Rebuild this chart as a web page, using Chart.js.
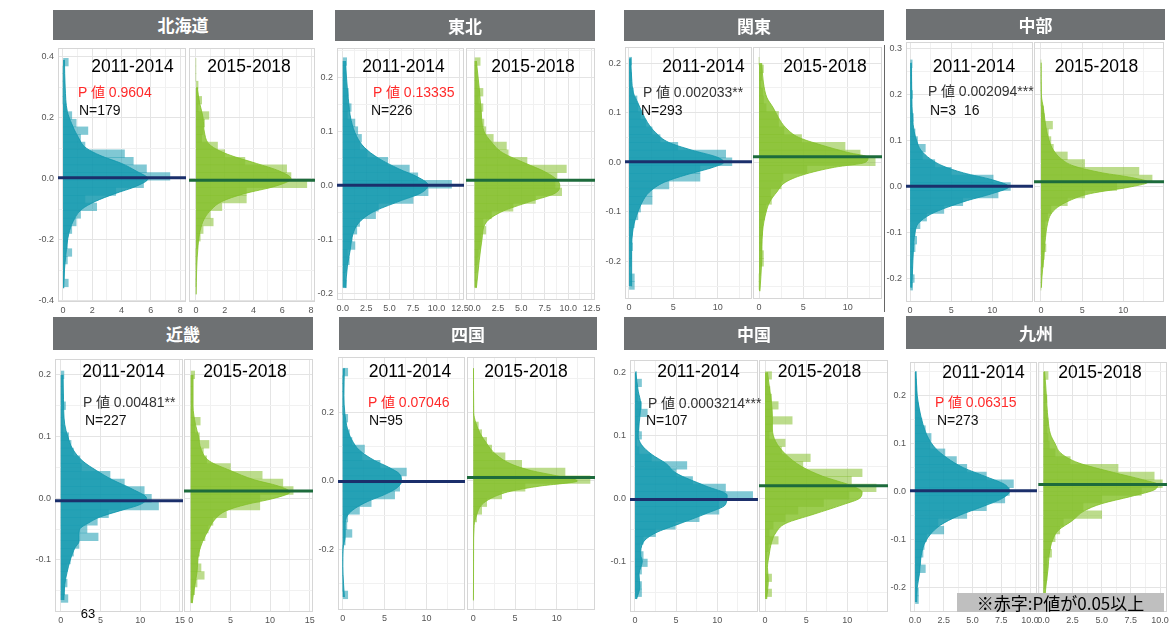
<!DOCTYPE html>
<html><head><meta charset="utf-8">
<script src="https://cdn.jsdelivr.net/npm/chart.js@4"></script>
<style>
body{margin:0;background:#fff;width:1170px;height:625px;overflow:hidden;position:relative;font-family:"Liberation Sans","Noto Sans CJK JP",Arial,sans-serif;}
.hdr{position:absolute;background:#6e7173;color:#fff;font-weight:bold;font-size:17px;text-align:center;font-family:"Noto Sans CJK JP",sans-serif;z-index:3;}
.cv{position:absolute;z-index:1;}
.lbl{position:absolute;white-space:pre;line-height:1;z-index:5;transform:translateY(-50%);}
.period{font-size:17.5px;color:#000;transform:translate(-50%,-50%);}
.pv{font-size:14px;color:#333;}
.pv.red{color:#ff2a2a;}
.nv{font-size:14px;color:#111;}
.note{position:absolute;background:#bfbfbf;color:#000;font-size:17px;text-align:center;z-index:6;font-family:"Noto Sans CJK JP",sans-serif;}
</style></head><body>
<script>
// ---------------- DATA ----------------
const regions = ['北海道','東北','関東','中部','近畿','四国','中国','九州'];
const periods = ['2011-2014','2015-2018'];
const pValues = ['0.9604','0.13335','0.002033**','0.002094***','0.00481**','0.07046','0.0003214***','0.06315'];
const pAbove005 = [true,true,false,false,false,true,false,true];
const nLabels = ['179','226','293','3  16','227','95','107','273'];
const meanEarly = [0.003,0.000,0.001,0.001,-0.004,-0.002,-0.002,0.002];
const meanLate = [-0.005,0.009,0.011,0.011,0.012,0.010,0.020,0.015];
// histogram bins (30 per region), top edge and width
const binTop = [0.395,0.236,0.2118,0.276,0.2063,0.33,0.201,0.25];
const binWidth = [0.025,0.0142,0.0156,0.0167,0.0125,0.0225,0.0119,0.0161];
// histogram heights, top bin first
const countsEarly = [
 [0.36,0,0,0,0,0,0.2,0.6,0.9,1.7,1.2,1.5,4.2,4.8,5.7,7.3,5.5,3.6,1.5,2.3,1.2,0.9,0.6,0.3,0.3,0.6,0.3,0.1,0.1,0.36],
 [0.42,0.3,0.3,0.3,0.6,0.5,0.9,0.5,1.3,1.6,2.0,1.8,2.6,4.8,7.1,8.0,11.6,9.1,7.5,3.8,3.5,1.8,1.5,1.0,1.3,0.5,0.7,0.3,0.2,0.4],
 [0.3,0.2,0.3,0.2,0.5,0.9,1.0,1.3,1.9,2.6,3.5,5.5,10.9,11.6,8.0,8.0,4.5,2.6,2.6,1.3,1.0,0.6,0.4,0.3,0.4,0.3,0.2,0.1,0.6,0.6],
 [0.25,0.2,0.2,0.2,0.3,0.2,0.2,0.4,0.3,0.6,0.9,1.85,1.5,3.0,5.0,10.1,12.2,10.7,6.4,4.1,2.0,1.2,0.6,0.8,0.6,0.3,0.2,0.3,0.5,0.3],
 [0.4,0.2,0.2,0.3,0.6,0.2,0.2,0.3,1.0,1.3,1.6,2.4,2.6,6.2,8.0,10.5,11.4,12.3,6.0,4.6,3.3,4.7,2.3,1.6,1.2,0.8,0.6,0.8,0.5,0.9],
 [0.6,0,0,0,0,0,0.6,0.4,0.8,1.1,2.6,2.3,4.45,7.6,7.0,6.8,6.2,3.4,2.0,0.6,0.5,1.1,0.3,0,0,0,0,0,0,0.6],
 [0.2,0.8,0.2,0.3,0.8,1.5,0.4,0.5,0.8,0.2,0.5,2.0,6.3,5.0,7.0,11.0,14.3,10.2,10.2,7.8,4.9,2.5,1.0,0.6,1.0,1.5,0.8,0.4,0.8,0.8],
 [0.15,0.15,0.15,0.15,0.3,0.4,0.6,0.9,1.4,1.3,2.6,3.6,4.5,6.2,8.55,8.2,7.8,6.2,4.5,2.0,2.5,1.0,0.8,0.7,0.5,0.9,0.3,0.1,0.3,0.3]
];
const countsLate = [
 [0,0,0,0.15,0.1,0.4,0.15,0.9,0.6,0.5,0.4,1.5,2.0,3.4,6.3,6.6,7.7,3.5,3.5,1.8,1.0,1.2,0.5,0.3,0.1,0,0,0,0,0],
 [0.6,0.2,0.2,0.3,0.9,0.4,0.9,0.7,1.0,1.2,2.0,3.4,3.6,5.6,9.8,8.8,8.6,9.3,6.5,4.1,1.8,0.9,1.2,0.7,0.6,0.4,0.3,0.2,0.1,0.2],
 [0,0.5,0.3,0.2,0.4,0.5,0.8,2.2,2.2,2.8,4.8,9.7,11.4,13.1,5.4,2.7,2.5,1.3,1.4,0.8,0.6,0.4,0.4,0.3,0.3,0.5,0.5,0.1,0,0],
 [0,0,0,0,0,0,0.3,0.4,1.4,0.9,1.2,1.5,3.2,5.3,11.9,13.5,9.2,5.3,3.2,1.2,0.8,0.5,0.5,0.4,0.6,0.4,0.3,0,0,0],
 [0.5,0.2,0.2,0.2,0.2,0.2,1.2,0.5,1.1,2.3,1.6,2.0,5.0,9.0,11.6,12.9,8.7,8.7,4.5,2.8,2.2,1.8,1.2,1.1,0.9,1.3,1.7,0.8,0.5,0.2],
 [0,0,0,0,0,0,0,0.6,1.0,1.6,2.2,3.8,5.8,11.0,14.0,6.2,3.4,1.6,1.0,0.4,0,0,0,0,0,0,0,0,0,0],
 [0.8,0.3,0.6,0.8,1.6,0.8,3.3,0.8,0.5,2.45,2.0,5.5,4.6,11.8,10.5,13.5,10.2,7.1,4.0,2.45,1.0,0.5,1.6,0.4,0.2,0.1,0.1,0.8,0.2,0.8],
 [0.4,0.1,0.1,0.3,0.15,0.3,0.4,0.3,0.4,0.5,1.0,2.3,6.4,9.5,10.2,8.4,5.0,3.4,5.0,1.7,1.4,1.0,0.6,0.7,0.3,0.3,0.3,0.2,0,0]
];
// density curves: [y, density], ascending y
const densityEarly = [
 [[-0.36,0.05],[-0.30,0.1],[-0.25,0.2],[-0.18,0.4],[-0.14,0.7],[-0.10,1.3],[-0.075,2.2],[-0.05,3.5],[-0.025,5.0],[0,5.8],[0.025,5.0],[0.05,4.0],[0.075,2.6],[0.10,1.6],[0.14,1.0],[0.18,0.6],[0.22,0.3],[0.30,0.15],[0.39,0.1]],
 [[-0.19,0.3],[-0.15,0.5],[-0.12,0.8],[-0.09,1.1],[-0.07,1.7],[-0.05,3.2],[-0.03,6.0],[-0.015,8.3],[0,9.1],[0.015,8.0],[0.03,6.0],[0.05,3.8],[0.07,2.3],[0.09,1.5],[0.12,0.9],[0.16,0.6],[0.2,0.4],[0.23,0.3]],
 [[-0.25,0.3],[-0.18,0.3],[-0.13,0.5],[-0.1,1.0],[-0.08,1.5],[-0.06,2.3],[-0.04,4.0],[-0.025,6.5],[-0.01,9.5],[0,10.7],[0.01,10.0],[0.025,7.0],[0.04,4.5],[0.06,3.0],[0.08,2.1],[0.1,1.5],[0.12,1.0],[0.14,0.5],[0.17,0.3],[0.21,0.2]],
 [[-0.22,0.2],[-0.18,0.3],[-0.14,0.4],[-0.1,0.6],[-0.08,1.0],[-0.06,2.5],[-0.045,4.5],[-0.03,7.0],[-0.015,10.0],[0,12.0],[0.015,10.0],[0.03,6.5],[0.045,4.0],[0.06,2.5],[0.08,1.3],[0.1,0.8],[0.12,0.5],[0.15,0.3],[0.2,0.2],[0.27,0.15]],
 [[-0.165,0.4],[-0.14,0.5],[-0.12,0.8],[-0.1,1.2],[-0.08,1.8],[-0.07,2.3],[-0.06,2.3],[-0.05,2.4],[-0.04,3.5],[-0.03,5.0],[-0.02,7.5],[-0.01,10.0],[0,10.8],[0.015,9.0],[0.03,6.5],[0.045,4.5],[0.06,2.8],[0.08,1.5],[0.1,0.9],[0.12,0.5],[0.16,0.35],[0.2,0.3]],
 [[-0.34,0.2],[-0.3,0.1],[-0.25,0.02],[-0.2,0.05],[-0.16,0.3],[-0.13,0.3],[-0.1,0.6],[-0.08,1.5],[-0.06,3.0],[-0.04,5.0],[-0.02,6.5],[0,7.0],[0.02,6.8],[0.04,5.5],[0.06,3.8],[0.09,2.0],[0.12,1.1],[0.15,0.6],[0.2,0.25],[0.25,0.15],[0.33,0.2]],
 [[-0.16,0.2],[-0.14,0.6],[-0.12,0.5],[-0.1,0.9],[-0.09,0.7],[-0.07,1.0],[-0.055,2.5],[-0.04,5.5],[-0.025,8.5],[-0.01,11.0],[0.005,11.2],[0.02,8.5],[0.04,5.0],[0.055,3.8],[0.07,2.0],[0.085,0.8],[0.1,0.4],[0.13,0.6],[0.15,0.7],[0.17,0.4],[0.2,0.1]],
 [[-0.23,0.15],[-0.2,0.2],[-0.17,0.4],[-0.14,0.5],[-0.11,0.8],[-0.09,1.3],[-0.07,2.2],[-0.05,3.8],[-0.03,6.0],[-0.015,7.5],[0,8.2],[0.015,7.8],[0.03,6.3],[0.05,4.2],[0.07,2.8],[0.09,1.8],[0.11,1.2],[0.14,0.7],[0.17,0.4],[0.2,0.2],[0.22,0.15],[0.25,0.05]]
];
const densityLate = [
 [[-0.38,0.02],[-0.30,0.05],[-0.22,0.15],[-0.17,0.3],[-0.13,0.6],[-0.10,1.1],[-0.075,1.8],[-0.05,3.3],[-0.025,5.5],[0,6.6],[0.025,5.8],[0.05,4.2],[0.08,2.2],[0.11,1.0],[0.15,0.6],[0.2,0.5],[0.25,0.25],[0.3,0.1]],
 [[-0.19,0.2],[-0.14,0.5],[-0.1,0.8],[-0.07,1.2],[-0.05,2.8],[-0.03,6.0],[-0.015,8.6],[0,9.1],[0.01,8.8],[0.025,7.5],[0.04,5.5],[0.06,3.0],[0.08,1.8],[0.1,1.0],[0.14,0.7],[0.18,0.5],[0.23,0.2]],
 [[-0.26,0.1],[-0.2,0.3],[-0.14,0.4],[-0.1,0.8],[-0.08,1.2],[-0.06,2.0],[-0.04,3.0],[-0.025,5.0],[-0.01,8.5],[0,12.0],[0.01,12.3],[0.02,10.0],[0.035,7.0],[0.05,4.5],[0.07,3.0],[0.09,2.2],[0.11,1.6],[0.13,0.9],[0.16,0.5],[0.2,0.3]],
 [[-0.22,0.05],[-0.2,0.1],[-0.16,0.3],[-0.12,0.5],[-0.08,0.8],[-0.06,1.2],[-0.045,2.0],[-0.03,3.5],[-0.015,6.0],[0,11.0],[0.01,13.0],[0.02,11.0],[0.03,7.5],[0.045,4.0],[0.06,2.5],[0.08,1.5],[0.1,1.0],[0.13,0.6],[0.17,0.3],[0.2,0.05],[0.27,0.02]],
 [[-0.17,0.2],[-0.15,0.4],[-0.12,0.8],[-0.09,1.0],[-0.07,1.5],[-0.05,2.3],[-0.035,3.0],[-0.02,4.5],[-0.01,7.0],[0,10.5],[0.01,12.5],[0.02,11.0],[0.03,8.0],[0.045,5.0],[0.06,2.4],[0.08,1.3],[0.1,1.0],[0.12,0.6],[0.15,0.3],[0.2,0.3]],
 [[-0.35,0.01],[-0.3,0.02],[-0.2,0.03],[-0.13,0.1],[-0.1,0.4],[-0.07,1.0],[-0.05,2.2],[-0.03,4.5],[-0.015,8.0],[0,12.5],[0.015,10.0],[0.03,7.0],[0.05,4.5],[0.08,2.6],[0.11,1.6],[0.14,0.8],[0.17,0.3],[0.2,0.05],[0.33,0.02]],
 [[-0.16,0.2],[-0.13,0.4],[-0.11,0.3],[-0.09,0.5],[-0.07,0.8],[-0.055,1.3],[-0.04,2.5],[-0.025,6.0],[-0.01,9.5],[0,11.5],[0.01,11.8],[0.02,10.5],[0.035,7.0],[0.05,4.5],[0.07,2.5],[0.09,1.3],[0.11,0.9],[0.13,0.9],[0.15,0.8],[0.17,0.6],[0.2,0.3]],
 [[-0.23,0.1],[-0.2,0.2],[-0.16,0.4],[-0.13,0.5],[-0.1,0.8],[-0.08,1.3],[-0.06,2.5],[-0.04,3.5],[-0.025,5.0],[-0.01,7.5],[0.005,9.6],[0.015,9.8],[0.025,8.5],[0.04,6.0],[0.06,3.0],[0.08,1.5],[0.1,1.0],[0.12,0.6],[0.15,0.4],[0.18,0.3],[0.22,0.2],[0.25,0.1]]
];
// axis ranges and tick steps
const yRange = [[-0.405,0.429],[-0.2127,0.254],[-0.2756,0.2325],[-0.251,0.315],[-0.1843,0.2258],[-0.378,0.363],[-0.1805,0.2195],[-0.2506,0.27]];
const xRangeEarly = [[-0.34,8.4],[-0.61,12.93],[-0.45,13.87],[-0.5,14.95],[-0.72,15.38],[-0.56,14.6],[-0.6,14.95],[-0.43,10.6]];
const xRangeLate = [[-0.48,8.27],[-0.91,12.86],[-0.68,13.87],[-0.85,14.95],[-0.84,15.4],[-0.76,14.6],[-0.73,14.95],[-0.45,10.6]];
const yTickStep = [0.2,0.1,0.1,0.1,0.1,0.2,0.1,0.1];
const xTickStep = [2,2.5,5,5,5,5,5,2.5];
const xTickDecimals = [0,1,0,0,0,0,0,1];

// ---------------- LAYOUT (pixels) ----------------
const LAYOUT = [
 {hdr:[53,10,260,30], fL:[58,186], fR:[189,315], top:48, bottom:302, p1:[132.5,67], p2:[249,67], pv:[78,92], nv:[79,110]},
 {hdr:[335,10,260,31], fL:[337,464], fR:[466,595], top:48, bottom:300, p1:[403.5,67], p2:[533,67], pv:[373,92], nv:[371,110]},
 {hdr:[624,10,260,31], fL:[625,752], fR:[753,882], top:47, bottom:299, p1:[703.5,67], p2:[825,67], pv:[643,92], nv:[641,110]},
 {hdr:[906,9,259,31], fL:[906,1033], fR:[1034,1164], top:42, bottom:302, p1:[974,67], p2:[1096.5,67], pv:[928,91], nv:[930,110]},
 {hdr:[53,317,260,33], fL:[55,183], fR:[184,313], top:359, bottom:612, p1:[123.5,372], p2:[245,372], pv:[83,402], nv:[85,420]},
 {hdr:[339,317,258,33], fL:[338,465], fR:[467,595], top:357, bottom:610, p1:[410,372], p2:[526,372], pv:[368,402], nv:[369,420]},
 {hdr:[624,317,260,33], fL:[630,758], fR:[759,888], top:360, bottom:612, p1:[698.5,372], p2:[819.5,372], pv:[648,403], nv:[646,420]},
 {hdr:[906,316,260,33], fL:[910,1037], fR:[1038,1167], top:362, bottom:612, p1:[983.5,373], p2:[1100,373], pv:[935,402], nv:[937,420]}
];
const TEAL = {bar:'rgba(24,155,177,0.55)', dens:'rgba(5,146,169,0.8)', mean:'#1b2f6b'};
const GREEN = {bar:'rgba(133,192,46,0.55)', dens:'rgba(130,192,36,0.8)', mean:'#1d6b3c'};

const isMajor = (v, step) => Math.abs(v/step - Math.round(v/step)) < 1e-6;
function minorTicks(min, max, step){
  const out=[];
  for(let k=Math.ceil(min/step-1e-9); k*step<=max+1e-9; k++) out.push({value:+(k*step).toFixed(6)});
  return out;
}
const framePlugin = {
  id:'frame',
  beforeDatasetsDraw(chart){
    const {ctx, chartArea:a} = chart;
    ctx.save(); ctx.strokeStyle='#d6d6d6'; ctx.lineWidth=1;
    ctx.strokeRect(a.left+0.5, a.top+0.5, a.right-a.left-1, a.bottom-a.top-1);
    ctx.restore();
  }
};

function addDiv(cls, left, top, text, extra){
  const d=document.createElement('div'); d.className=cls; d.textContent=text;
  d.style.left=left+'px'; d.style.top=top+'px';
  if(extra) Object.assign(d.style, extra);
  document.body.appendChild(d); return d;
}

function buildPanel(r, side){
  const L = LAYOUT[r];
  const early = side===0;
  const [f0,f1] = early ? L.fL : L.fR;
  const padL = early ? 34 : 4, padR = 14, padT = 10, padB = 18;
  const W = padL + (f1-f0) + padR, H = padT + (L.bottom-L.top) + padB;
  const cv = document.createElement('canvas');
  cv.className='cv'; cv.width=W; cv.height=H;
  Object.assign(cv.style,{left:(f0-padL)+'px', top:(L.top-padT)+'px', width:W+'px', height:H+'px'});
  document.body.appendChild(cv);
  const counts = early ? countsEarly[r] : countsLate[r];
  const dens = early ? densityEarly[r] : densityLate[r];
  const mean = early ? meanEarly[r] : meanLate[r];
  const xr = early ? xRangeEarly[r] : xRangeLate[r];
  const yr = yRange[r];
  const centers = counts.map((_,i)=> binTop[r] - binWidth[r]*(i+0.5));
  const pal = early ? TEAL : GREEN;
  const tickFont = {size:9, family:'Liberation Sans'};
  new Chart(cv, {
    type:'bar',
    data:{datasets:[
      {type:'line', indexAxis:'y', data:[{x:xr[0],y:mean},{x:xr[1],y:mean}], borderColor:pal.mean, borderWidth:3, pointRadius:0, fill:false, order:0},
      {type:'bar', indexAxis:'y', data:counts.map((c,i)=>({x:c,y:centers[i]})), backgroundColor:pal.bar, borderWidth:0, categoryPercentage:1, barPercentage:1, order:1},
      {type:'line', indexAxis:'y', data:dens.map(([y,x])=>({x,y})), backgroundColor:pal.dens, borderColor:pal.dens, borderWidth:1, pointRadius:0, fill:'origin', cubicInterpolationMode:'monotone', order:2}
    ]},
    options:{
      responsive:false, animation:false, devicePixelRatio:1, indexAxis:'y',
      layout:{padding:{left:0,right:padR,top:padT,bottom:0}},
      plugins:{legend:{display:false}, tooltip:{enabled:false}},
      scales:{
        x:{type:'linear', min:xr[0], max:xr[1], offset:false,
           afterFit:s=>{s.height=padB;},
           afterBuildTicks:s=>{s.ticks=minorTicks(s.min,s.max,xTickStep[r]/2);},
           ticks:{autoSkip:false, maxRotation:0, padding:3, color:'#555', font:tickFont,
                  callback:v=> isMajor(v,xTickStep[r]) ? Number(v).toFixed(xTickDecimals[r]) : ''},
           grid:{drawTicks:false, offset:false, lineWidth:1, color:c=> isMajor(c.tick.value,xTickStep[r]) ? '#e4e4e4' : '#f1f1f1'},
           border:{display:false}},
        y:{type:'linear', min:yr[0], max:yr[1], offset:false,
           afterFit:s=>{s.width=padL;},
           afterBuildTicks:s=>{s.ticks=minorTicks(s.min,s.max,yTickStep[r]/2);},
           ticks:{display:early, autoSkip:false, padding:4, color:'#555', font:tickFont,
                  callback:v=> isMajor(v,yTickStep[r]) ? Number(v).toFixed(1) : ''},
           grid:{drawTicks:false, offset:false, lineWidth:1, color:c=> isMajor(c.tick.value,yTickStep[r]) ? '#e4e4e4' : '#f1f1f1'},
           border:{display:false}}
      }
    },
    plugins:[framePlugin]
  });
}

regions.forEach((name,r)=>{
  const L = LAYOUT[r];
  addDiv('hdr', L.hdr[0], L.hdr[1], name, {width:L.hdr[2]+'px', height:L.hdr[3]+'px', lineHeight:L.hdr[3]+'px'});
  buildPanel(r,0); buildPanel(r,1);
  addDiv('lbl period', L.p1[0], L.p1[1], periods[0]);
  addDiv('lbl period', L.p2[0], L.p2[1], periods[1]);
  addDiv('lbl pv'+(pAbove005[r]?' red':''), L.pv[0], L.pv[1], 'P 値 '+pValues[r]);
  addDiv('lbl nv', L.nv[0], L.nv[1], 'N='+nLabels[r]);
});
// extra marks present in the reference image
addDiv('lbl', 88, 613, '63', {fontSize:'13px', color:'#000', transform:'translate(-50%,-50%)'});
addDiv('note', 957, 593, '※赤字:P値が0.05以上', {width:'207px', height:'19px', lineHeight:'19px'});
addDiv('', 884, 45, '', {position:'absolute', width:'1px', height:'267px', background:'#666'});
</script>
</body></html>
